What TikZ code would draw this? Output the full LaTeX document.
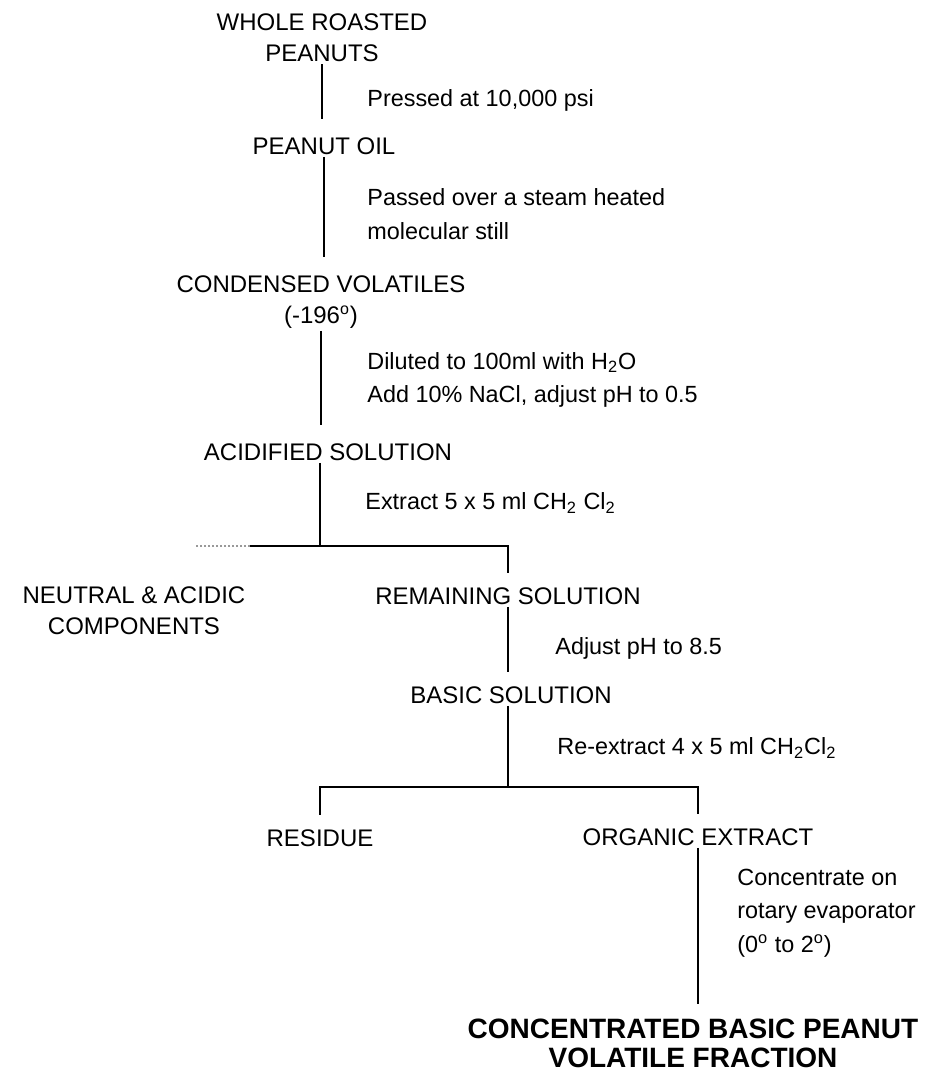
\documentclass[tikz,border=0pt]{standalone}
\usepackage{fontspec}
\setmainfont{Liberation Sans}
\begin{document}
\begin{tikzpicture}[x=0.5pt, y=-0.5pt,
  stage/.style={inner sep=1pt, align=center, font=\fontsize{12}{15.5}\selectfont},
  note/.style={anchor=west, inner sep=0pt, align=left, font=\fontsize{11.7}{16.8}\selectfont},
  product/.style={inner sep=1pt, align=center, font=\fontsize{14}{14.5}\selectfont\bfseries},
  flow/.style={line width=1.3pt, shorten >=6pt},
  faint/.style={line width=1pt, black!40, densely dotted}]

\useasboundingbox (0,0) rectangle (939,1073);

% =====================================================================
% Main trunk: peanuts -> oil -> volatiles -> acidified solution
% =====================================================================
\node[stage] (whole) at (322,38) {WHOLE ROASTED\\PEANUTS};
\node[stage] (oil) at (324,146) {PEANUT OIL};
\node[stage] (condensed) at (321,302) {CONDENSED VOLATILES\\(-196\textsuperscript{o})};
\node[stage] (acid) at (328,452) {ACIDIFIED SOLUTION};

\node[note] (pressed) at (367,100) {Pressed at 10,000 psi};
\node[note] (passed) at (367,214) {Passed over a steam heated\\molecular still};
\node[note] (diluted) at (367,380) {Diluted to 100ml with H\textsubscript{2}O\\Add 10\% NaCl, adjust pH to 0.5};

\draw[flow, shorten >=8pt] (whole.south) -- (whole.south |- oil.north);
\draw[flow, shorten >=8pt] (oil.south) -- (oil.south |- condensed.north);
\draw[flow, shorten >=8pt] (condensed.south) -- (condensed.south |- acid.north);

% =====================================================================
% First extraction: split into neutral/acidic and remaining solution
% =====================================================================
\coordinate (split1) at (320,546);
\coordinate (fade1) at (250,546);
\coordinate (fade1end) at (195,546);

\node[note] (extract) at (365,503) {Extract 5 x 5 ml CH\textsubscript{2} Cl\textsubscript{2}};
\node[stage] (neutral) at (134,611) {NEUTRAL \& ACIDIC\\COMPONENTS};
\node[stage] (remain) at (508,596) {REMAINING SOLUTION};

\draw[flow, shorten >=0pt] (acid.south -| split1) -- (split1);
\draw[flow, shorten >=0pt] (split1) -- (fade1);
\draw[faint] (fade1) -- (fade1end);
\draw[flow] (split1) -| (remain.north);

% =====================================================================
% Basification and second extraction
% =====================================================================
\node[note] (adjust) at (555,648) {Adjust pH to 8.5};
\node[stage] (basic) at (511,695) {BASIC SOLUTION};
\node[note] (reextract) at (557,748) {Re-extract 4 x 5 ml CH\textsubscript{2}Cl\textsubscript{2}};

\draw[flow] (remain.south) -- (remain.south |- basic.north);

\coordinate (split2) at (508,787);
\node[stage] (residue) at (320,838) {RESIDUE};
\node[stage] (organic) at (698,837) {ORGANIC EXTRACT};

\draw[flow, shorten >=0pt] (basic.south -| split2) -- (split2);
\draw[flow] (split2) -| (residue.north);
\draw[flow] (split2) -| (organic.north);

% =====================================================================
% Concentration step and final fraction
% =====================================================================
\node[note] (concentrate) at (737,913) {Concentrate on\\rotary evaporator\\(0\textsuperscript{o} to 2\textsuperscript{o})};
\node[product] (final) at (693,1043) {CONCENTRATED BASIC PEANUT\\VOLATILE FRACTION};

\draw[flow] (organic.south) -- (organic.south |- final.north);

\end{tikzpicture}
\end{document}
